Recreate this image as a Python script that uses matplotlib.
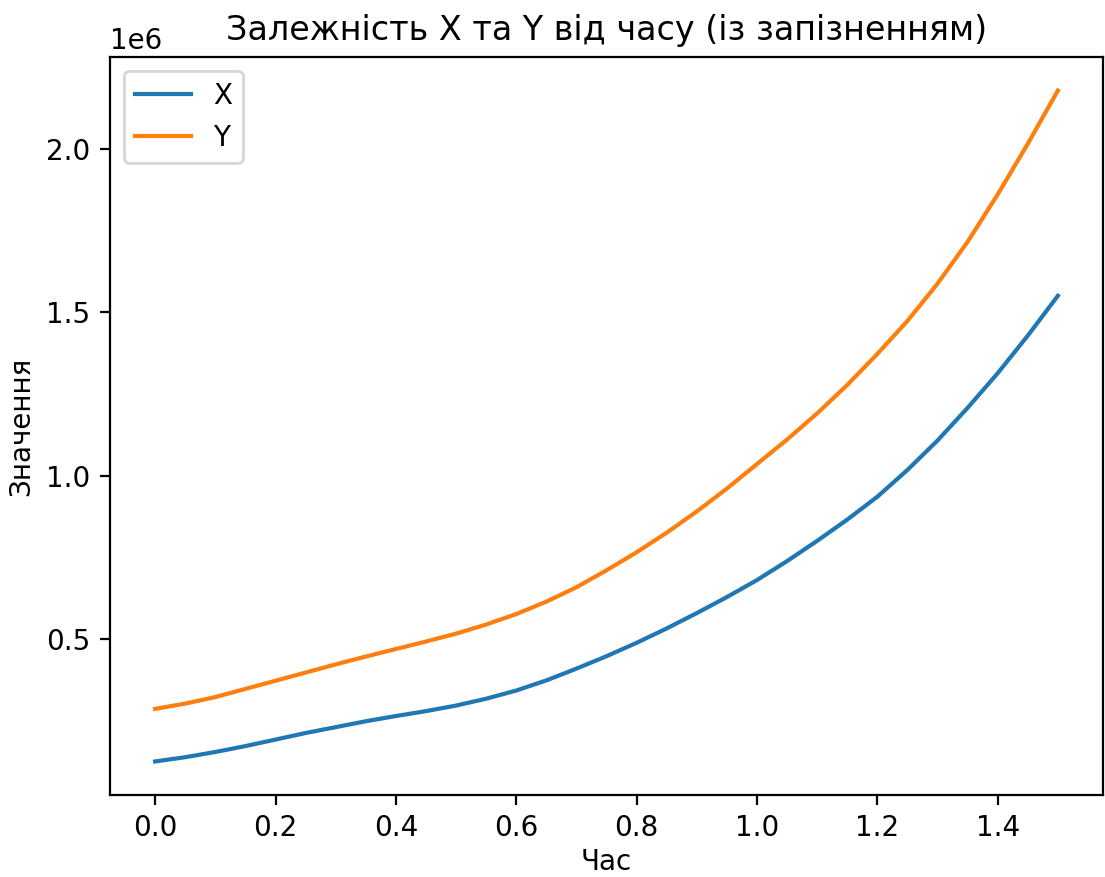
import matplotlib
matplotlib.use("Agg")
import matplotlib.pyplot as plt

# time points and values (values in millions)
t = [0.00, 0.05, 0.10, 0.15, 0.20, 0.25, 0.30, 0.35, 0.40, 0.45, 0.50,
     0.55, 0.60, 0.65, 0.70, 0.75, 0.80, 0.85, 0.90, 0.95, 1.00,
     1.05, 1.10, 1.15, 1.20, 1.25, 1.30, 1.35, 1.40, 1.45, 1.50]
x_vals = [0.125, 0.138, 0.154, 0.172, 0.192, 0.212, 0.230, 0.248, 0.264, 0.279, 0.296,
          0.317, 0.342, 0.373, 0.409, 0.447, 0.488, 0.532, 0.579, 0.628, 0.680,
          0.738, 0.800, 0.865, 0.935, 1.017, 1.107, 1.207, 1.313, 1.428, 1.550]
y_vals = [0.286, 0.302, 0.322, 0.347, 0.372, 0.397, 0.422, 0.446, 0.469, 0.492, 0.516,
          0.544, 0.576, 0.614, 0.658, 0.710, 0.765, 0.825, 0.890, 0.960, 1.035,
          1.110, 1.190, 1.277, 1.372, 1.473, 1.587, 1.715, 1.860, 2.015, 2.178]

X = [v * 1e6 for v in x_vals]
Y = [v * 1e6 for v in y_vals]

fig = plt.figure(figsize=(1105 / 200, 877 / 200), dpi=200)
ax = fig.add_axes([110 / 1105, 82 / 877, 993 / 1105, 738 / 877])

ax.plot(t, X, label="X")
ax.plot(t, Y, label="Y")
ax.set_xlabel("Час", labelpad=2)
ax.set_ylabel("Значення")
ax.set_title("Залежність X та Y від часу (із запізненням)")
ax.legend(loc="upper left")

fig.savefig("out.png", dpi=200)
